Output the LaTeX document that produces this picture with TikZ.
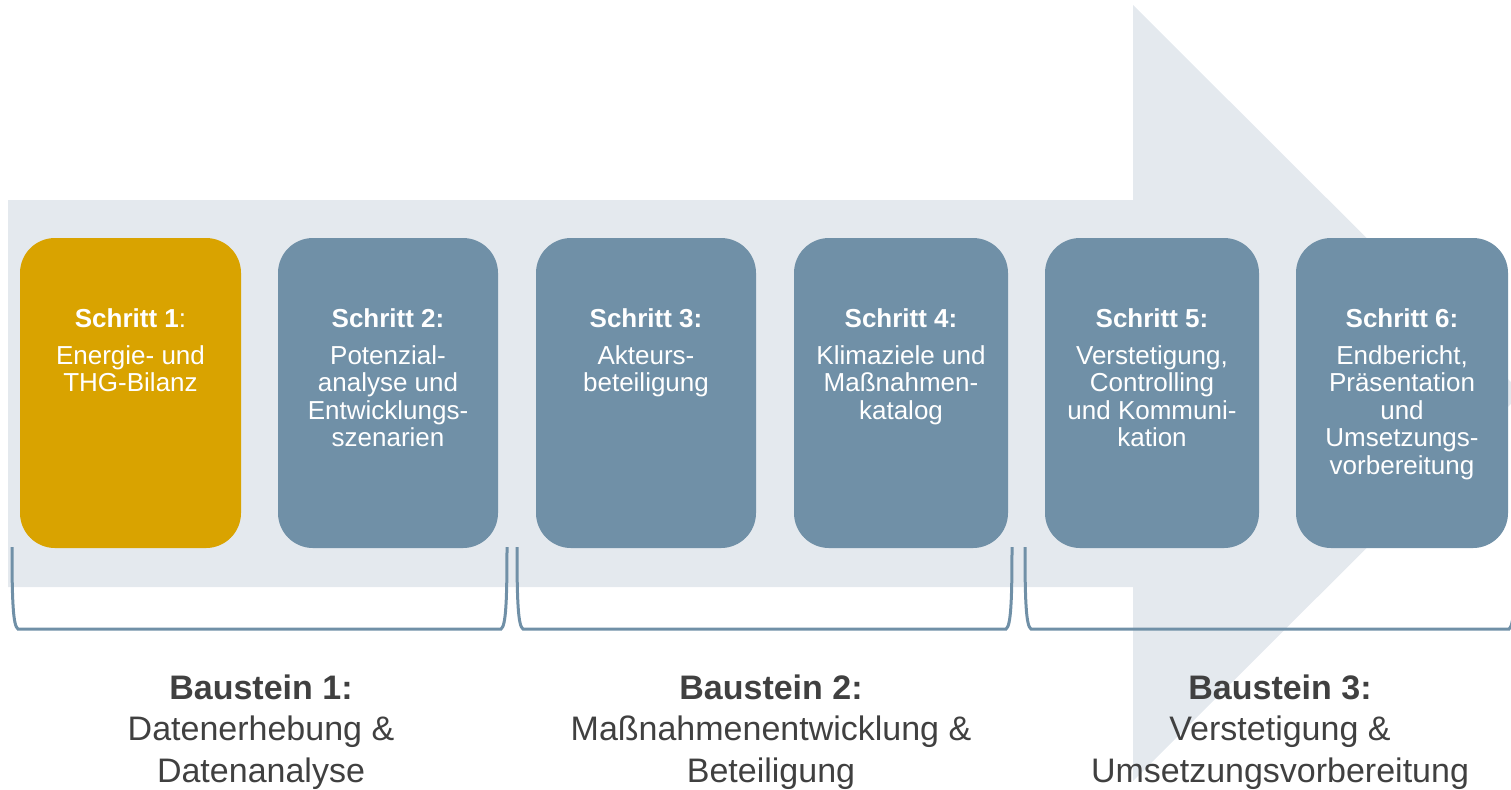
\documentclass[tikz,border=0pt]{standalone}
\usepackage{fontspec}
\setmainfont{Liberation Sans}
\definecolor{arrowgray}{HTML}{E4E9EE}
\definecolor{stepblue}{HTML}{7090A7}
\definecolor{stepgold}{HTML}{D9A300}
\definecolor{labelgray}{HTML}{404040}
\begin{document}
\begin{tikzpicture}[x=0.5pt,y=-0.5pt,
  stepbox/.style={draw=none, fill=stepblue, rounded corners=17.5pt, inner sep=0pt, minimum height=155pt},
  steptext/.style={text=white, align=center, inner sep=0pt, font=\fontsize{13}{13.75}\selectfont},
  bausteintext/.style={text=labelgray, align=center, inner sep=0pt, font=\fontsize{17}{20.75}\selectfont},
  bracketline/.style={draw=stepblue, line width=1.5pt}]
\clip (0,0) rectangle (1511,789);
% big arrow
\fill[arrowgray] (8,200) -- (1133,200) -- (1133,5) -- (1522,393) -- (1133,781) -- (1133,587) -- (8,587) -- cycle;
% boxes
\node[stepbox, fill=stepgold, minimum width=110.5pt] (s1) at (130.5,393) {};
\node[stepbox, minimum width=110pt] (s2) at (388,393) {};
\node[stepbox, minimum width=110pt] (s3) at (646,393) {};
\node[stepbox, minimum width=107pt] (s4) at (901,393) {};
\node[stepbox, minimum width=107pt] (s5) at (1152,393) {};
\node[stepbox, minimum width=106pt] (s6) at (1402,393) {};
% box texts
\node[steptext, anchor=north] (t1) at (130.5,307) {\rule{0pt}{10pt}\textbf{Schritt 1}:\\[4.75pt]Energie- und\\THG-Bilanz};
\node[steptext, anchor=north] (t2) at (388,307) {\rule{0pt}{10pt}\textbf{Schritt 2:}\\[4.75pt]Potenzial-\\analyse und\\Entwicklungs-\\szenarien};
\node[steptext, anchor=north] (t3) at (646,307) {\rule{0pt}{10pt}\textbf{Schritt 3:}\\[4.75pt]Akteurs-\\beteiligung};
\node[steptext, anchor=north] (t4) at (901,307) {\rule{0pt}{10pt}\textbf{Schritt 4:}\\[4.75pt]Klimaziele und\\Maßnahmen-\\katalog};
\node[steptext, anchor=north] (t5) at (1152,307) {\rule{0pt}{10pt}\textbf{Schritt 5:}\\[4.75pt]Verstetigung,\\Controlling\\und Kommuni-\\kation};
\node[steptext, anchor=north] (t6) at (1402,307) {\rule{0pt}{10pt}\textbf{Schritt 6:}\\[4.75pt]Endbericht,\\Präsentation\\und\\Umsetzungs-\\vorbereitung};
% brackets
\draw[bracketline] (12,547) .. controls (12,600) and (13,626) .. (18,629) -- (501,629) .. controls (506,626) and (507,600) .. (507,547);
\draw[bracketline] (517,547) .. controls (517,600) and (518,626) .. (523,629) -- (1006,629) .. controls (1011,626) and (1012,600) .. (1012,547);
\draw[bracketline] (1025,547) .. controls (1025,600) and (1026,626) .. (1031,629) -- (1509,629) .. controls (1514,626) and (1515,600) .. (1515,547);
% baustein labels
\node[bausteintext, anchor=north] (b1) at (261,674) {\rule{0pt}{12.5pt}\textbf{Baustein 1:}\\Datenerhebung \&\\Datenanalyse};
\node[bausteintext, anchor=north] (b2) at (771,674) {\rule{0pt}{12.5pt}\textbf{Baustein 2:}\\Maßnahmenentwicklung \&\\Beteiligung};
\node[bausteintext, anchor=north] (b3) at (1280,674) {\rule{0pt}{12.5pt}\textbf{Baustein 3:}\\Verstetigung \&\\Umsetzungsvorbereitung};
\end{tikzpicture}
\end{document}
